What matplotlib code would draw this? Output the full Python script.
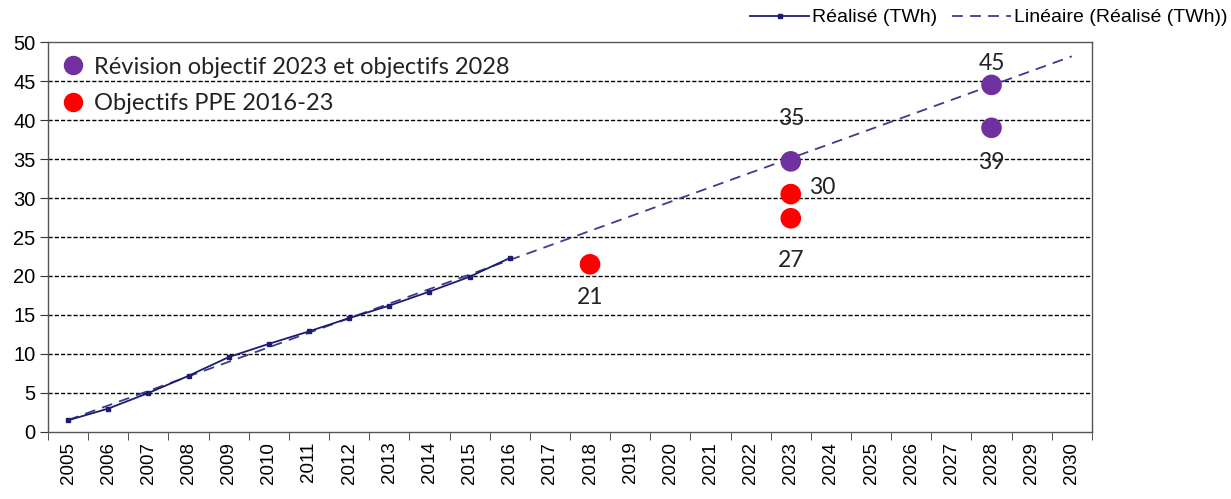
import numpy as np
import matplotlib.pyplot as plt
from matplotlib.lines import Line2D

years = [str(y) for y in range(2005, 2031)]
real_years = list(range(2005, 2017))
real_values = [1.5, 3.0, 5.0, 7.2, 9.6, 11.3, 12.9, 14.6, 16.2, 18.0, 19.9, 22.3]

ppe_years = [2018, 2023, 2023]
ppe_values = [21.5, 30.5, 27.4]
ppe_labels = ["21", "30", "27"]

rev_years = [2023, 2028, 2028]
rev_values = [34.7, 44.5, 39.0]
rev_labels = ["35", "45", "39"]

navy = "#1c1c72"
trend_col = "#3c3c8c"
purple = "#7030a0"
red = "#ff0000"

def xpos(y):
    return years.index(str(y))

fig = plt.figure(figsize=(12.31, 4.99), dpi=100)
ax = fig.add_axes([0.039, 0.1343, 0.848, 0.7815])

# realised series
rx = [xpos(y) for y in real_years]
ax.plot(rx, real_values, color=navy, lw=1.3, marker="s", ms=3.5, zorder=4)

# linear trend extended to 2030
coef = np.polyfit(rx, real_values, 1)
tx = np.array([0, len(years) - 1])
ax.plot(tx, np.polyval(coef, tx), color=trend_col, lw=1.3, ls=(0, (6, 4)), zorder=3)

ax.scatter([xpos(y) for y in ppe_years], ppe_values, s=220, color=red, zorder=5, edgecolors="none")
ax.scatter([xpos(y) for y in rev_years], rev_values, s=220, color=purple, zorder=5, edgecolors="none")

lab_font = dict(family="Lato", fontsize=16.5, color="#222222")
offsets_ppe = [(0, -4.3, "center"), (0.45, 0.8, "left"), (0, -5.4, "center")]
for y, v, t, (dx, dy, ha) in zip(ppe_years, ppe_values, ppe_labels, offsets_ppe):
    ax.text(xpos(y) + dx, v + dy, t, ha=ha, va="center", **lab_font)
offsets_rev = [(0, 5.5, "center"), (0, 2.7, "center"), (0, -4.4, "center")]
for y, v, t, (dx, dy, ha) in zip(rev_years, rev_values, rev_labels, offsets_rev):
    ax.text(xpos(y) + dx, v + dy, t, ha=ha, va="center", **lab_font)

ax.set_xlim(-0.5, len(years) - 0.5)
ax.set_ylim(0, 50)
ax.set_yticks(range(0, 51, 5))
ax.set_xticks(range(len(years)))
ax.set_xticklabels(years, rotation=90, family="Liberation Sans", fontsize=13.5)
ax.set_xticks(np.arange(-0.5, len(years), 1), minor=True)
ax.tick_params(axis="x", which="major", length=0, pad=7)
ax.tick_params(axis="x", which="minor", length=6, direction="out", color="#333333")
ax.tick_params(axis="y", length=6, direction="out", labelsize=14.5, color="#333333", pad=3)
for lbl in ax.get_yticklabels():
    lbl.set_family("Liberation Sans")

for yv in range(5, 50, 5):
    ax.axhline(yv, color="black", lw=1.0, ls=(0, (3, 1.5)), zorder=1)
for s in ax.spines.values():
    s.set_color("#555555")
    s.set_linewidth(1.0)

# inside legend
h_rev = Line2D([], [], ls="none", marker="o", ms=14, color=purple, mec="none")
h_ppe = Line2D([], [], ls="none", marker="o", ms=14, color=red, mec="none")
leg = ax.legend([h_rev, h_ppe], ["Révision objectif 2023 et objectifs 2028", "Objectifs PPE 2016-23"],
                loc="upper left", bbox_to_anchor=(0.0, 0.99), frameon=False,
                prop={"family": "Lato", "size": 17}, handletextpad=0.3, labelspacing=0.65,
                borderaxespad=0.15, handlelength=1.2, borderpad=0.3)
for t in leg.get_texts():
    t.set_color("#222222")

# top legend
h_real = Line2D([], [], color=navy, lw=1.3, marker="s", ms=3.5)
h_trend = Line2D([], [], color=trend_col, lw=1.3, ls=(0, (6, 4)))
fig.legend([h_real, h_trend], ["Réalisé (TWh)", "Linéaire (Réalisé (TWh))"],
           loc="upper right", bbox_to_anchor=(1.0, 0.99), ncol=2, frameon=False,
           prop={"family": "Liberation Sans", "size": 14}, handlelength=3.0,
           handletextpad=0.15, columnspacing=0.8, borderaxespad=0.0, borderpad=0.2)

fig.savefig("out.png", dpi=100)
